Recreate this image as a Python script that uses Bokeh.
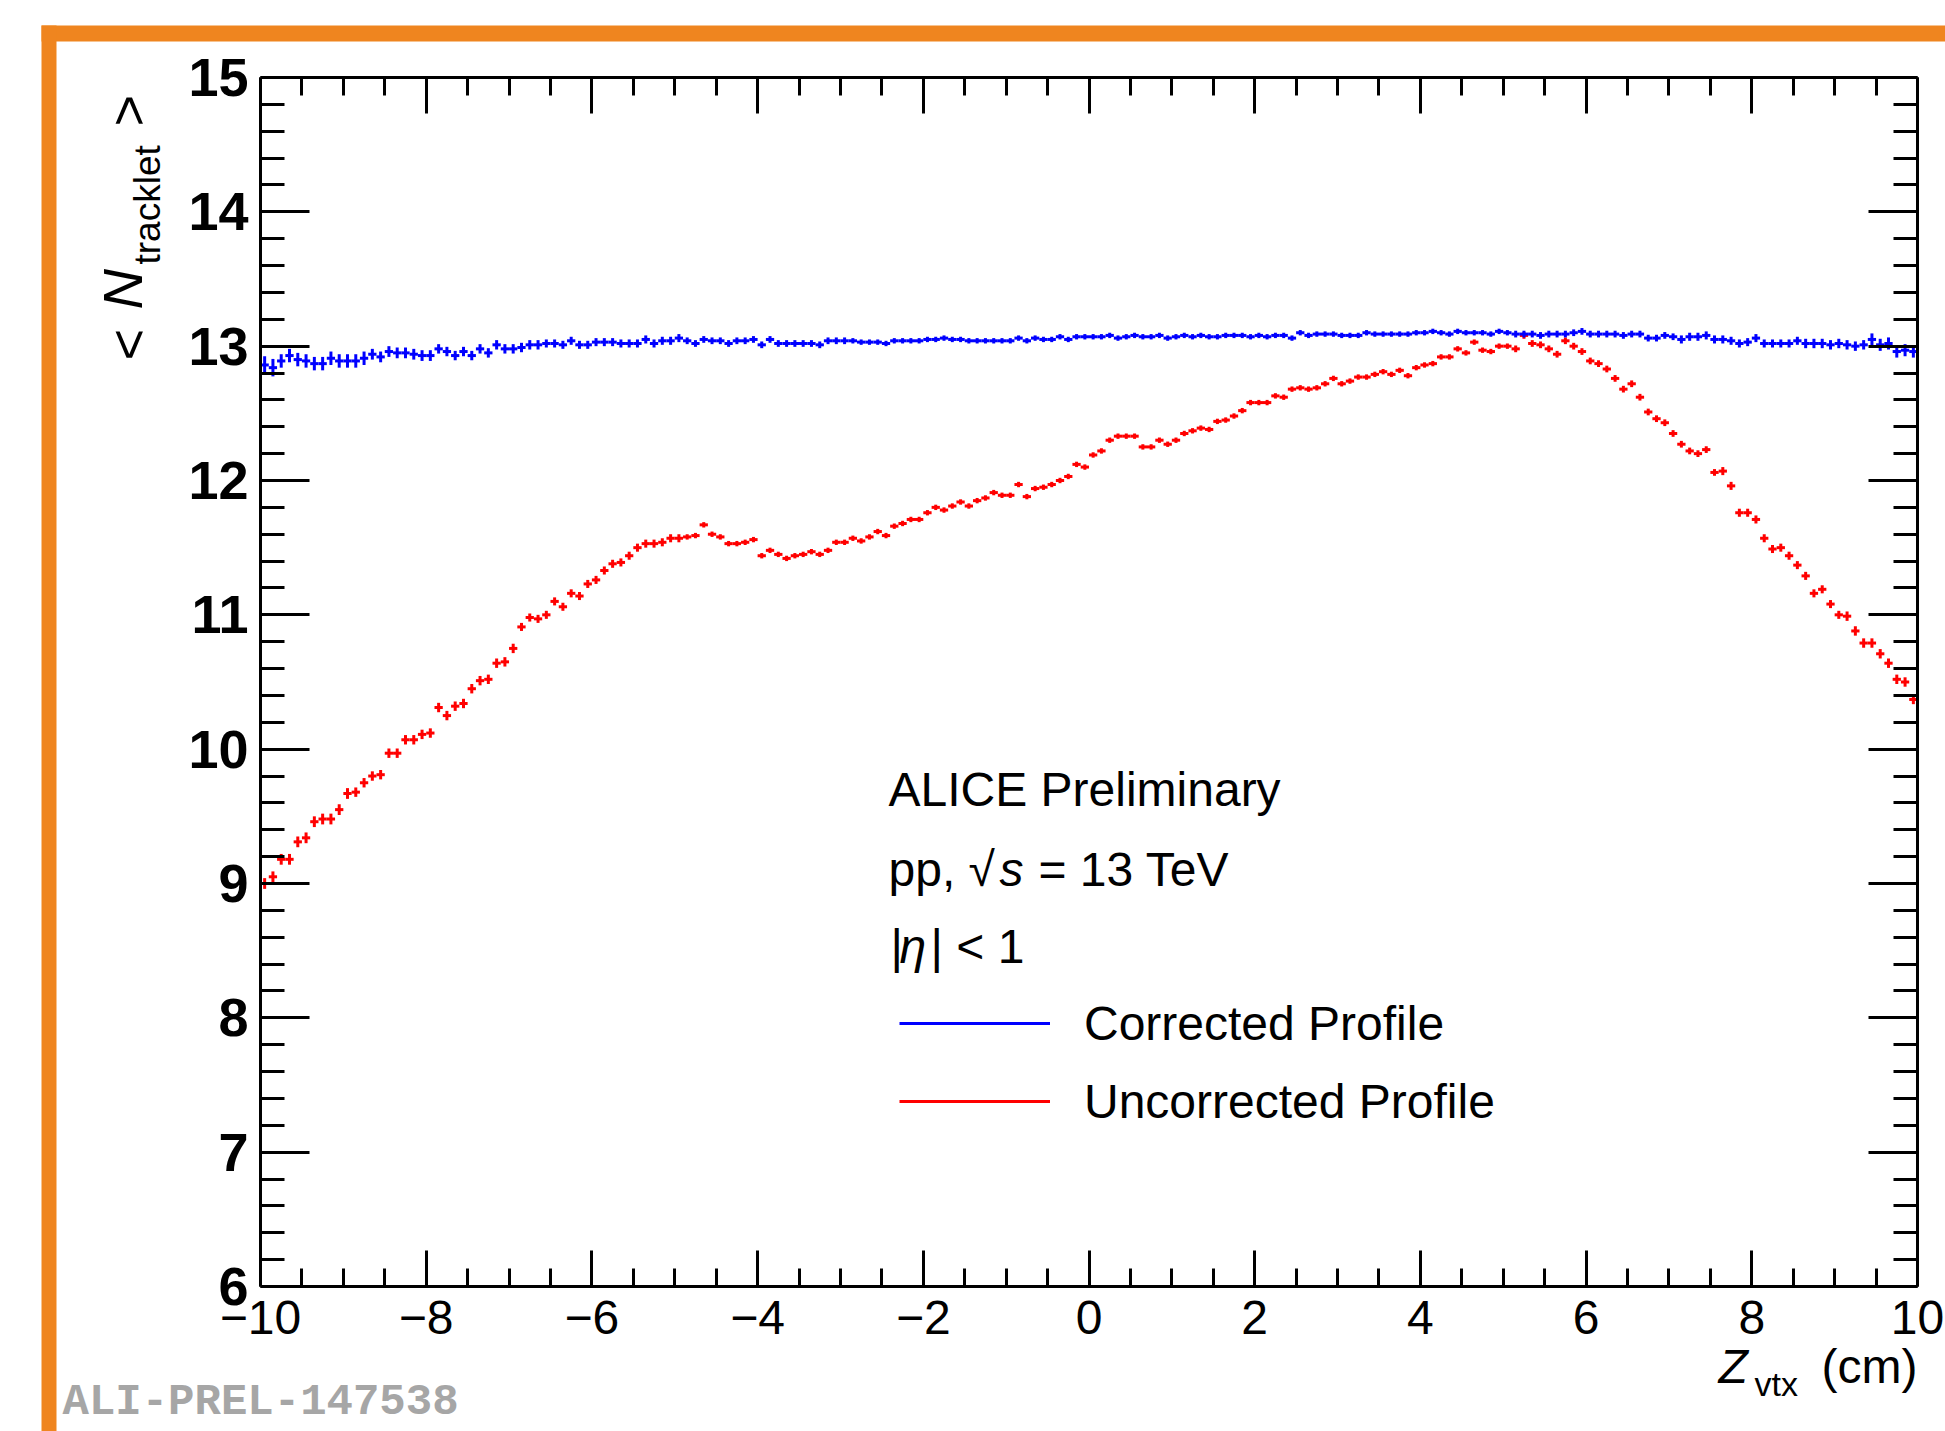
import numpy as np
from bokeh.plotting import figure
from bokeh.models import (ColumnDataSource, LinearAxis, FixedTicker, Range1d, Label,
                          BoxAnnotation, Legend, LegendItem)
from bokeh.embed import file_html
from bokeh.resources import INLINE

# ---------------- data ----------------
z_lo, z_hi, n_bins = -10.0, 10.0, 200
n_lo, n_hi = 6.0, 15.0

corrected = [
    12.86, 12.84, 12.89, 12.93, 12.90, 12.89, 12.87, 12.87, 12.91, 12.89,
    12.89, 12.89, 12.91, 12.94, 12.92, 12.96, 12.95, 12.95, 12.94, 12.93,
    12.93, 12.98, 12.96, 12.93, 12.96, 12.93, 12.98, 12.95, 13.01, 12.98,
    12.98, 12.99, 13.01, 13.01, 13.02, 13.02, 13.01, 13.04, 13.01, 13.01,
    13.03, 13.03, 13.03, 13.02, 13.02, 13.02, 13.05, 13.02, 13.04, 13.04,
    13.06, 13.04, 13.02, 13.05, 13.04, 13.04, 13.02, 13.04, 13.04, 13.05,
    13.01, 13.05, 13.02, 13.02, 13.02, 13.02, 13.02, 13.01, 13.04, 13.04,
    13.04, 13.04, 13.03, 13.03, 13.03, 13.02, 13.04, 13.04, 13.04, 13.04,
    13.05, 13.05, 13.06, 13.05, 13.05, 13.04, 13.04, 13.04, 13.04, 13.04,
    13.04, 13.06, 13.04, 13.06, 13.05, 13.05, 13.07, 13.05, 13.07, 13.07,
    13.07, 13.07, 13.08, 13.06, 13.07, 13.08, 13.07, 13.07, 13.08, 13.06,
    13.07, 13.08, 13.07, 13.08, 13.07, 13.07, 13.08, 13.08, 13.08, 13.07,
    13.08, 13.07, 13.08, 13.08, 13.06, 13.10, 13.08, 13.09, 13.09, 13.09,
    13.08, 13.08, 13.08, 13.10, 13.09, 13.09, 13.09, 13.09, 13.09, 13.10,
    13.10, 13.11, 13.10, 13.09, 13.11, 13.10, 13.10, 13.10, 13.09, 13.11,
    13.10, 13.09, 13.09, 13.09, 13.08, 13.09, 13.09, 13.09, 13.10, 13.11,
    13.09, 13.09, 13.09, 13.09, 13.08, 13.09, 13.09, 13.06, 13.06, 13.08,
    13.07, 13.05, 13.07, 13.07, 13.08, 13.05, 13.05, 13.04, 13.02, 13.03,
    13.06, 13.02, 13.02, 13.02, 13.02, 13.04, 13.02, 13.02, 13.02, 13.01,
    13.02, 13.01, 13.00, 13.01, 13.05, 13.01, 13.02, 12.96, 12.97, 12.96,
]

corrected_err = [
    0.065, 0.065, 0.05, 0.05, 0.05, 0.05, 0.05, 0.05, 0.05, 0.05,
    0.05, 0.05, 0.05, 0.04, 0.04, 0.04, 0.04, 0.04, 0.04, 0.04,
    0.04, 0.035, 0.035, 0.035, 0.035, 0.035, 0.035, 0.035, 0.035, 0.035,
    0.035, 0.035, 0.035, 0.035, 0.03, 0.03, 0.03, 0.03, 0.03, 0.03,
    0.03, 0.03, 0.03, 0.03, 0.03, 0.03, 0.03, 0.03, 0.03, 0.03,
    0.03, 0.025, 0.025, 0.025, 0.025, 0.025, 0.025, 0.025, 0.025, 0.025,
    0.025, 0.025, 0.025, 0.025, 0.025, 0.025, 0.025, 0.025, 0.025, 0.025,
    0.025, 0.02, 0.02, 0.02, 0.02, 0.02, 0.02, 0.02, 0.02, 0.02,
    0.02, 0.02, 0.02, 0.02, 0.02, 0.02, 0.02, 0.02, 0.02, 0.02,
    0.02, 0.02, 0.02, 0.02, 0.02, 0.02, 0.02, 0.02, 0.02, 0.02,
    0.02, 0.02, 0.02, 0.02, 0.02, 0.02, 0.02, 0.02, 0.02, 0.02,
    0.02, 0.02, 0.02, 0.02, 0.02, 0.02, 0.02, 0.02, 0.02, 0.02,
    0.02, 0.02, 0.02, 0.02, 0.02, 0.02, 0.02, 0.02, 0.02, 0.02,
    0.02, 0.02, 0.02, 0.02, 0.02, 0.02, 0.02, 0.02, 0.02, 0.02,
    0.02, 0.02, 0.02, 0.02, 0.02, 0.02, 0.02, 0.02, 0.02, 0.02,
    0.02, 0.025, 0.025, 0.025, 0.025, 0.025, 0.025, 0.025, 0.025, 0.025,
    0.025, 0.025, 0.025, 0.025, 0.025, 0.025, 0.025, 0.025, 0.025, 0.025,
    0.025, 0.03, 0.03, 0.03, 0.03, 0.03, 0.03, 0.03, 0.03, 0.03,
    0.03, 0.03, 0.03, 0.03, 0.03, 0.03, 0.035, 0.035, 0.035, 0.035,
    0.035, 0.035, 0.035, 0.035, 0.045, 0.045, 0.045, 0.045, 0.045, 0.045,
]

uncorrected = [
    9.00, 9.05, 9.18, 9.18, 9.31, 9.34, 9.46, 9.48, 9.48, 9.55,
    9.67, 9.68, 9.75, 9.80, 9.81, 9.97, 9.97, 10.07, 10.07, 10.11,
    10.12, 10.31, 10.25, 10.32, 10.34, 10.45, 10.51, 10.52, 10.64, 10.65,
    10.75, 10.91, 10.98, 10.97, 11.00, 11.10, 11.06, 11.16, 11.14, 11.23,
    11.26, 11.33, 11.38, 11.39, 11.44, 11.50, 11.53, 11.53, 11.54, 11.57,
    11.57, 11.58, 11.59, 11.67, 11.60, 11.58, 11.53, 11.53, 11.54, 11.56,
    11.44, 11.48, 11.45, 11.42, 11.44, 11.45, 11.47, 11.45, 11.48, 11.54,
    11.54, 11.57, 11.55, 11.58, 11.62, 11.59, 11.66, 11.68, 11.71, 11.71,
    11.76, 11.80, 11.78, 11.81, 11.84, 11.81, 11.85, 11.87, 11.91, 11.89,
    11.89, 11.97, 11.88, 11.94, 11.95, 11.97, 12.00, 12.03, 12.12, 12.10,
    12.19, 12.22, 12.30, 12.33, 12.33, 12.33, 12.25, 12.25, 12.30, 12.27,
    12.30, 12.35, 12.37, 12.39, 12.38, 12.44, 12.45, 12.48, 12.52, 12.58,
    12.58, 12.58, 12.63, 12.62, 12.68, 12.69, 12.68, 12.69, 12.72, 12.76,
    12.72, 12.74, 12.77, 12.77, 12.79, 12.81, 12.79, 12.82, 12.78, 12.84,
    12.86, 12.87, 12.92, 12.92, 12.98, 12.95, 13.03, 12.97, 12.96, 13.00,
    13.00, 12.98, 13.08, 13.02, 13.01, 12.98, 12.94, 13.04, 13.00, 12.96,
    12.89, 12.87, 12.83, 12.76, 12.68, 12.72, 12.62, 12.51, 12.46, 12.43,
    12.35, 12.27, 12.22, 12.20, 12.23, 12.06, 12.07, 11.96, 11.76, 11.76,
    11.71, 11.57, 11.49, 11.50, 11.44, 11.37, 11.29, 11.16, 11.19, 11.08,
    11.00, 10.99, 10.88, 10.79, 10.79, 10.71, 10.64, 10.52, 10.50, 10.37,
]

uncorrected_err = [
    0.04, 0.04, 0.04, 0.04, 0.04, 0.04, 0.04, 0.04, 0.04, 0.04,
    0.04, 0.035, 0.035, 0.035, 0.035, 0.035, 0.035, 0.035, 0.035, 0.035,
    0.035, 0.035, 0.035, 0.035, 0.035, 0.035, 0.035, 0.035, 0.035, 0.035,
    0.035, 0.03, 0.03, 0.03, 0.03, 0.03, 0.03, 0.03, 0.03, 0.03,
    0.03, 0.03, 0.03, 0.03, 0.03, 0.03, 0.03, 0.03, 0.03, 0.03,
    0.03, 0.02, 0.02, 0.02, 0.02, 0.02, 0.02, 0.02, 0.02, 0.02,
    0.02, 0.02, 0.02, 0.02, 0.02, 0.02, 0.02, 0.02, 0.02, 0.02,
    0.02, 0.02, 0.02, 0.02, 0.02, 0.02, 0.02, 0.02, 0.02, 0.02,
    0.02, 0.02, 0.02, 0.02, 0.02, 0.02, 0.02, 0.02, 0.02, 0.02,
    0.02, 0.02, 0.02, 0.02, 0.02, 0.02, 0.02, 0.02, 0.02, 0.02,
    0.02, 0.02, 0.02, 0.02, 0.02, 0.02, 0.02, 0.02, 0.02, 0.02,
    0.02, 0.02, 0.02, 0.02, 0.02, 0.02, 0.02, 0.02, 0.02, 0.02,
    0.02, 0.02, 0.02, 0.02, 0.02, 0.02, 0.02, 0.02, 0.02, 0.02,
    0.02, 0.02, 0.02, 0.02, 0.02, 0.02, 0.02, 0.02, 0.02, 0.02,
    0.02, 0.02, 0.02, 0.02, 0.02, 0.02, 0.02, 0.02, 0.02, 0.02,
    0.02, 0.025, 0.025, 0.025, 0.025, 0.025, 0.025, 0.025, 0.025, 0.025,
    0.025, 0.025, 0.025, 0.025, 0.025, 0.025, 0.025, 0.025, 0.025, 0.025,
    0.025, 0.025, 0.025, 0.025, 0.025, 0.025, 0.03, 0.03, 0.03, 0.03,
    0.03, 0.03, 0.03, 0.03, 0.03, 0.03, 0.03, 0.03, 0.03, 0.03,
    0.03, 0.035, 0.035, 0.035, 0.035, 0.035, 0.035, 0.035, 0.035, 0.035,
]

x_ticks = [-10, -8, -6, -4, -2, 0, 2, 4, 6, 8, 10]
y_ticks = [6, 7, 8, 9, 10, 11, 12, 13, 14, 15]
series_labels = ["Corrected Profile", "Uncorrected Profile"]
info_lines = ["ALICE Preliminary", "pp, \u221a", "s", "= 13 TeV", "|", "\u03b7", "| < 1"]

# ---------------- geometry (canvas pixels) ----------------
W, H = 1945, 1431
FL, FR, FT, FB = 260, 1917, 77, 1286      # where the data box sits
BLUE, RED, ORANGE = "#0000ff", "#ff0000", "#ef851f"
FONT = "Liberation Sans"


def xd(px):
    return z_lo + (px - FL) * (z_hi - z_lo) / (FR - FL)


def yd(py):
    return n_lo + (FB - py) * (n_hi - n_lo) / (FB - FT)


# the plotting frame covers the whole canvas; the data box is drawn with bounded,
# fixed-location axes so that texts outside the box are not clipped
p = figure(width=W, height=H, x_range=Range1d(xd(0), xd(W)), y_range=Range1d(yd(H), yd(0)),
           output_backend="svg", toolbar_location=None, title=None,
           x_axis_location=None, y_axis_location=None, min_border=0)
p.grid.visible = False
p.background_fill_color = "white"
p.border_fill_color = "white"
p.outline_line_color = None

x_minor = [t / 2 for t in range(-20, 21) if t % 4 != 0]
y_minor = [round(6 + k * 0.2, 1) for k in range(46) if k % 5 != 0]


def make_axis(ticks, minor, bounds, loc, tlen, mlen, show, overrides=None, size="48px", bold=False):
    ax = LinearAxis(ticker=FixedTicker(ticks=ticks, minor_ticks=minor), bounds=bounds,
                    fixed_location=loc)
    ax.major_tick_in = tlen
    ax.major_tick_out = 0
    ax.minor_tick_in = mlen
    ax.minor_tick_out = 0
    ax.axis_line_width = 3
    ax.major_tick_line_width = 3
    ax.minor_tick_line_width = 3
    if show:
        ax.major_label_text_font = FONT
        ax.major_label_text_font_size = size
        ax.major_label_text_color = "black"
        if bold:
            ax.major_label_text_font_style = "bold"
        if overrides:
            ax.major_label_overrides = overrides
    else:
        ax.major_label_text_color = None
    return ax


xover = {t: ("\u2212%d" % (-t) if t < 0 else "%d" % t) for t in x_ticks}
bottom = make_axis(x_ticks, x_minor, (z_lo, z_hi), n_lo, 36, 18, True, xover, "48px")
bottom.major_label_standoff = 14
top = make_axis(x_ticks, x_minor, (z_lo, z_hi), n_hi, 36, 18, False)
left = make_axis(y_ticks, y_minor, (n_lo, n_hi), z_lo, 49, 24, True, None, "54px", bold=True)
left.major_label_standoff = 12
right = make_axis(y_ticks, y_minor, (n_lo, n_hi), z_hi, 49, 24, False)
p.add_layout(bottom, "below")
p.add_layout(top, "above")
p.add_layout(left, "left")
p.add_layout(right, "right")

# ---------------- series ----------------
edges = np.linspace(z_lo, z_hi, n_bins + 1)
centers = 0.5 * (edges[:-1] + edges[1:])


def profile(vals, errs, color):
    v = np.array(vals)
    e = np.array(errs)
    src = ColumnDataSource(dict(x=centers, x0=edges[:-1], x1=edges[1:], y=v, ylo=v - e, yhi=v + e))
    h = p.segment(x0="x0", y0="y", x1="x1", y1="y", source=src, line_color=color, line_width=3)
    p.segment(x0="x", y0="ylo", x1="x", y1="yhi", source=src, line_color=color, line_width=3)
    return h


h_red = profile(uncorrected, uncorrected_err, RED)
h_blue = profile(corrected, corrected_err, BLUE)

legend = Legend(items=[LegendItem(label=series_labels[0], renderers=[h_blue]),
                       LegendItem(label=series_labels[1], renderers=[h_red])],
                location=(899, H - (1101 + 30)),
                glyph_width=151, glyph_height=60, label_height=60, spacing=18,
                label_standoff=34, padding=0, margin=0,
                border_line_color=None, background_fill_alpha=0,
                label_text_font=FONT, label_text_font_size="48px", label_text_color="black")
p.add_layout(legend)


# ---------------- texts ----------------
# (x, y) is the wanted start of the baseline in canvas pixels; the label box is
# shifted by a fraction of the font size to land its baseline there.
def txt(x, y, s, size, style="normal", color="black", font=FONT, angle=0, align="left"):
    shift = 0.29 * size
    if angle:
        x = x - shift
    else:
        y = y - shift
    p.add_layout(Label(x=xd(x), y=yd(y), text=s, text_font_size="%dpx" % size,
                       text_font_style=style, text_color=color, text_font=font,
                       angle=angle, text_align=align, text_baseline="alphabetic"))


txt(888, 803, info_lines[0], 48)
txt(888, 883, info_lines[1], 48)
txt(999, 883, info_lines[2], 48, "italic")
txt(1038, 883, info_lines[3], 48)
txt(890, 960, info_lines[4], 48)
txt(899, 960, info_lines[5], 48, "italic")
txt(930, 960, info_lines[6], 48)

# axis titles
txt(1718, 1380, "Z", 48, "italic")
txt(1754, 1393, "vtx", 34)
txt(1917, 1380, "(cm)", 48, align="right")

ang = np.pi / 2
txt(143, 360, "<", 54, angle=ang)
txt(138, 309, "N", 56, "italic", angle=ang)
txt(158, 264, "tracklet", 37, angle=ang)
txt(143, 126, ">", 54, angle=ang)

txt(62, 1414, "ALI-PREL-147538", 44, "bold", "#a6a6a6", "Liberation Mono")

# orange frame
p.add_layout(BoxAnnotation(left=xd(41), right=xd(W + 5), top=yd(25), bottom=yd(41),
                           fill_color=ORANGE, fill_alpha=1, line_color=None))
p.add_layout(BoxAnnotation(left=xd(41), right=xd(56), top=yd(25), bottom=yd(H + 5),
                           fill_color=ORANGE, fill_alpha=1, line_color=None))

open("out.html", "w").write(file_html(p, INLINE))
